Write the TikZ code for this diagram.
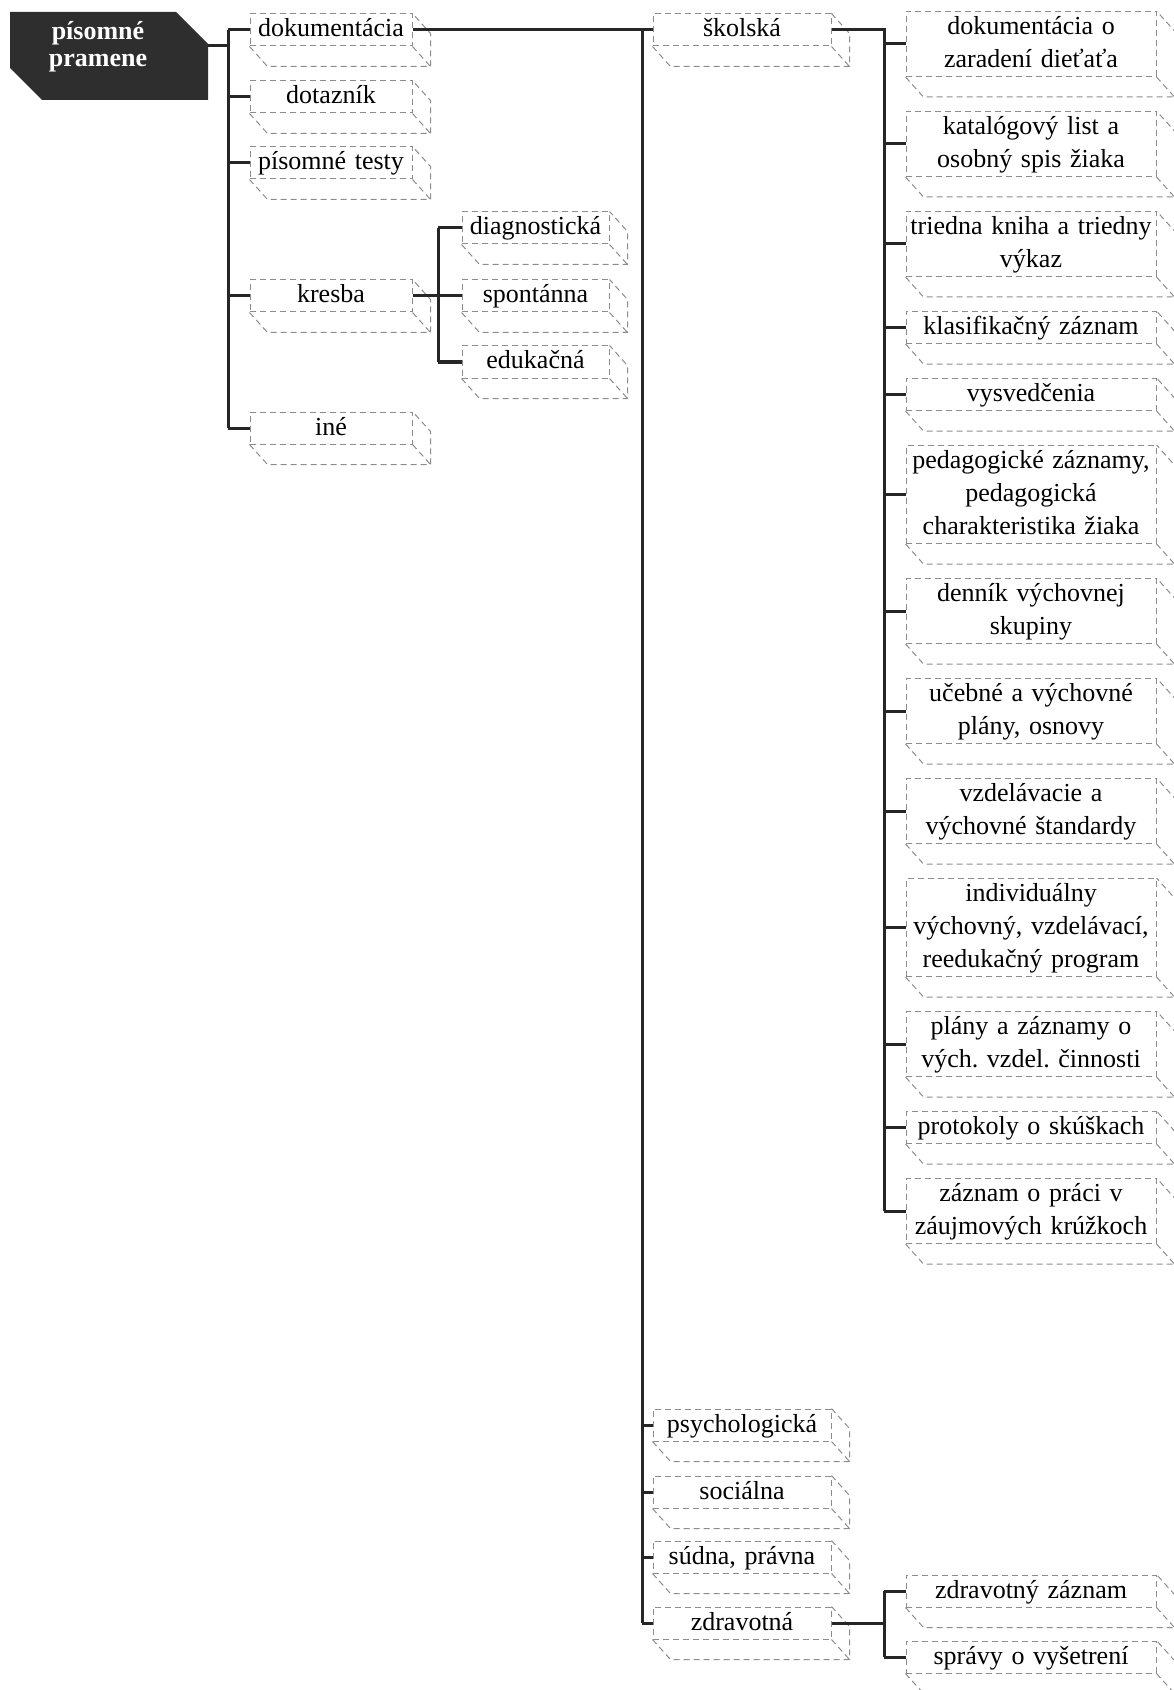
\documentclass[tikz,border=0pt]{standalone}
\usepackage{fontspec}
\setmainfont{Liberation Serif}
\frenchspacing
\usetikzlibrary{calc,positioning,shapes.misc}

\tikzset{
  box/.style={draw=black!45, densely dashed, line width=0.5pt, fill=white, align=center,
    inner xsep=0pt, inner ysep=0pt, minimum height=16pt, font=\fontsize{13}{16.5}\selectfont,
    execute at begin node={\rule{0pt}{11.5pt}}, execute at end node={\rule[-4.5pt]{0pt}{4.5pt}}},
  col1/.style={box, text width=81pt},
  col2/.style={box, text width=73.5pt},
  col3/.style={box, text width=89pt},
  col4/.style={box, text width=125pt},
  depth/.style={draw=black!45, densely dashed, line width=0.5pt},
  link/.style={draw=black!85, line width=1.5pt},
  root/.style={chamfered rectangle, chamfered rectangle corners={north east,south west},
    chamfered rectangle xsep=8pt, chamfered rectangle ysep=8pt, fill=black!82,
    inner sep=0pt, text width=50pt, text height=20pt, text depth=0pt,
    minimum width=99pt, minimum height=44pt},
  rootlabel/.style={text=white, align=center, inner sep=0pt,
    font=\fontsize{13}{13.5}\selectfont\bfseries},
}

\begin{document}
\begin{tikzpicture}[x=0.5pt, y=-0.5pt]
      \useasboundingbox (0,0) rectangle (1173,1690);

      \node[root] (root) at (109,56) {};
      \node[rootlabel] (rootname) at (98,47) {písomné\\pramene};

      \node[col1] (dok) at (331,30) {dokumentácia};
      \node[col1] (dot) at (331,97) {dotazník};
      \node[col1] (test) at (331,163) {písomné testy};
      \node[col1] (kres) at (331,296) {kresba};
      \node[col1] (ine) at (331,428) {iné};

      \node[col2] (diag) at (535.5,228) {diagnostická};
      \node[col2] (spon) at (535.5,296) {spontánna};
      \node[col2] (eduk) at (535.5,362) {edukačná};

      \node[col3] (skol) at (742,30) {školská};
      \node[col3] (psych) at (742,1425) {psychologická};
      \node[col3] (soc) at (742,1492) {sociálna};
      \node[col3] (sud) at (742,1557) {súdna, právna};
      \node[col3] (zdrav) at (742,1623) {zdravotná};

      \node[col4, anchor=north] (s1) at (1031,11) {dokumentácia o\\zaradení dieťaťa};
      \foreach \n/\t [remember=\n as \p (initially s1)] in {
          s2/{katalógový list a\\osobný spis žiaka},
          s3/{triedna kniha a triedny\\výkaz},
          s4/{klasifikačný záznam},
          s5/{vysvedčenia},
          s6/{pedagogické záznamy,\\pedagogická\\charakteristika žiaka},
          s7/{denník výchovnej\\skupiny},
          s8/{učebné a výchovné\\plány, osnovy},
          s9/{vzdelávacie a\\výchovné štandardy},
          s10/{individuálny\\výchovný, vzdelávací,\\reedukačný program},
          s11/{plány a záznamy o\\vých. vzdel. činnosti},
          s12/{protokoly o skúškach},
          s13/{záznam o práci v\\záujmových krúžkoch}}
        \node[col4, below=17pt of \p] (\n) {\t};

      \node[col4] (zaz) at (1031,1591) {zdravotný záznam};
      \node[col4] (sprav) at (1031,1657) {správy o vyšetrení};

      \foreach \n in {dok,dot,test,kres,ine,diag,spon,eduk,skol,psych,soc,sud,zdrav,
          s1,s2,s3,s4,s5,s6,s7,s8,s9,s10,s11,s12,s13,zaz,sprav}
        \draw[depth] (\n.south west) -- ++(18,20) -| ($(\n.north east)+(18,20)$) -- (\n.north east)
          (\n.south east) -- ++(18,20);

      \coordinate (t1) at (228,46);
      \coordinate (t2) at (438,296);
      \coordinate (t3) at (642,30);
      \coordinate (t4) at (884,30);
      \coordinate (t5) at (884,1623);

      \draw[link] (t1 -| root.east) -- (t1);
      \draw[link] (t1 |- dok) -- (t1 |- ine);
      \foreach \n in {dok,dot,test,kres,ine} \draw[link] (t1 |- \n) -- (\n.west);

      \draw[link] (kres.east) -- (spon.west);
      \draw[link] (t2 |- diag) -- (t2 |- eduk);
      \foreach \n in {diag,eduk} \draw[link] (t2 |- \n) -- (\n.west);

      \draw[link] (dok.east) -- (skol.west);
      \draw[link] (t3) -- (t3 |- zdrav);
      \foreach \n in {psych,soc,sud,zdrav} \draw[link] (t3 |- \n) -- (\n.west);

      \draw[link] (skol.east) -- (t4) -- (t4 |- s13);
      \foreach \n in {s1,s2,s3,s4,s5,s6,s7,s8,s9,s10,s11,s12,s13} \draw[link] (t4 |- \n) -- (\n.west);

      \draw[link] (zdrav.east) -- (t5);
      \draw[link] (t5 |- zaz) -- (t5 |- sprav);
      \foreach \n in {zaz,sprav} \draw[link] (t5 |- \n) -- (\n.west);
\end{tikzpicture}
\end{document}
